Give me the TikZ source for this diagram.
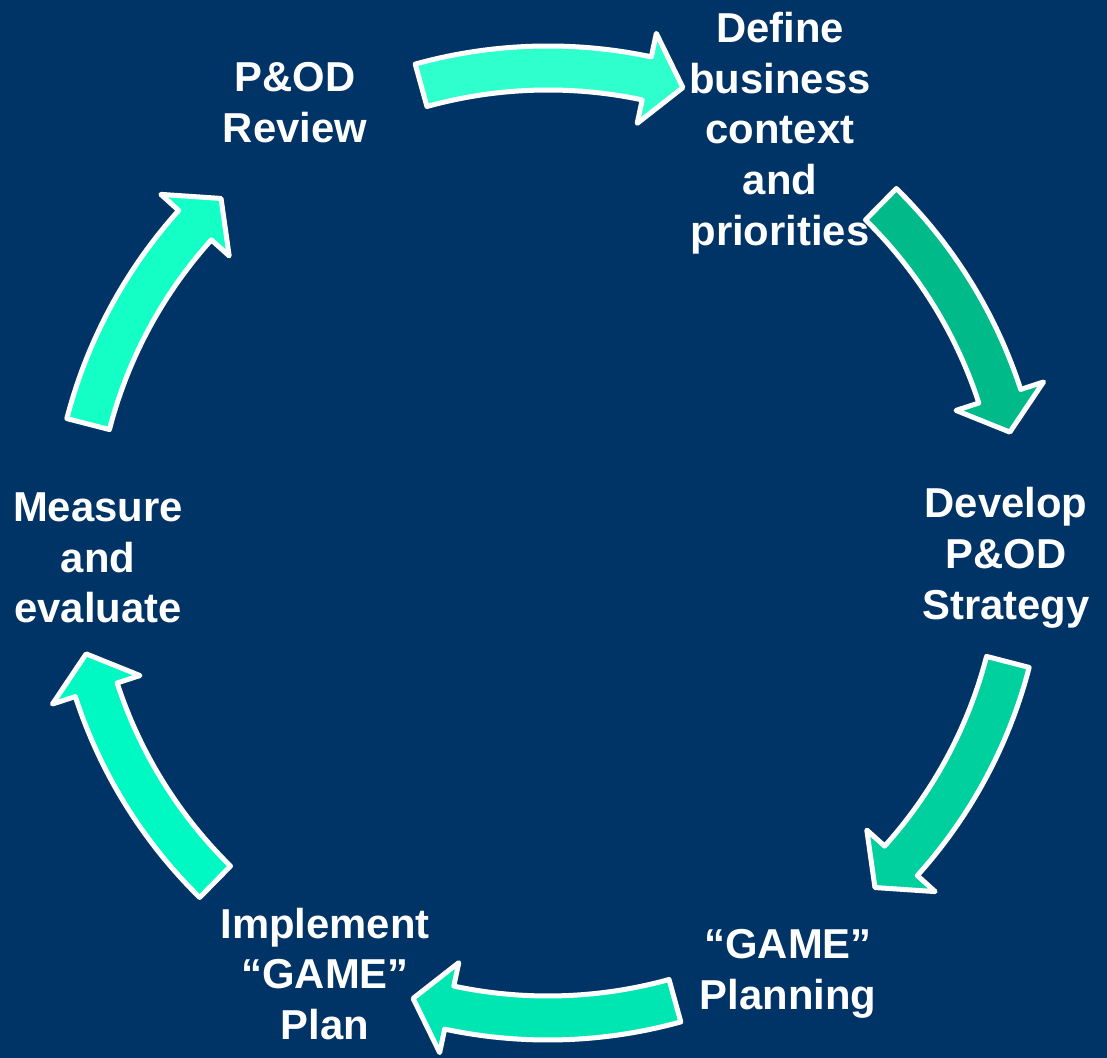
\documentclass[tikz,border=0pt]{standalone}
\usepackage{fontspec}
\setmainfont{Liberation Sans}

\definecolor{navy}{HTML}{003366}
\definecolor{arrowA}{HTML}{2EFFCC}
\definecolor{arrowB}{HTML}{00BA8A}
\definecolor{arrowC}{HTML}{00CF9E}
\definecolor{arrowD}{HTML}{00E6B2}
\definecolor{arrowE}{HTML}{00F9C2}
\definecolor{arrowF}{HTML}{14FFC6}

\begin{document}
\begin{tikzpicture}[x=0.02cm, y=0.02cm,
    stage/.style = {text=white, align=center, inner sep=0pt,
      font=\fontsize{23.8}{28.9}\selectfont\bfseries},
    cyclearrow/.style = {draw=white, line width=2.85pt, line join=round}]
\fill[navy] (0,0) rectangle (1107,1058);

% the six stages
\node[stage] (review)    at (295,955) {P\&OD\\Review};
\node[stage] (context)   at (780,925) {Define\\business\\context\\and\\priorities};
\node[stage] (strategy)  at (1006,500) {Develop\\P\&OD\\Strategy};
\node[stage] (planning)  at (788,84) {“GAME”\\Planning};
\node[stage] (implement) at (325,84) {Implement\\“GAME”\\Plan};
\node[stage] (measure)   at (98,500) {Measure\\and\\evaluate};

% curved block arrows round the cycle, clockwise
\begin{scope}[shift={(548,515)}]
  \foreach \a/\c in {90/arrowA, 30/arrowB, -30/arrowC, -90/arrowD, -150/arrowE, 150/arrowF}
    \filldraw[cyclearrow, fill=\c]
      (\a+15.5:497) arc[start angle=\a+15.5, end angle=\a-12, radius=497]
      -- (\a-12:521) -- (\a-16.5:475) -- (\a-12:429) -- (\a-12:453)
      arc[start angle=\a-12, end angle=\a+15.5, radius=453] -- cycle;
\end{scope}
\end{tikzpicture}
\end{document}
